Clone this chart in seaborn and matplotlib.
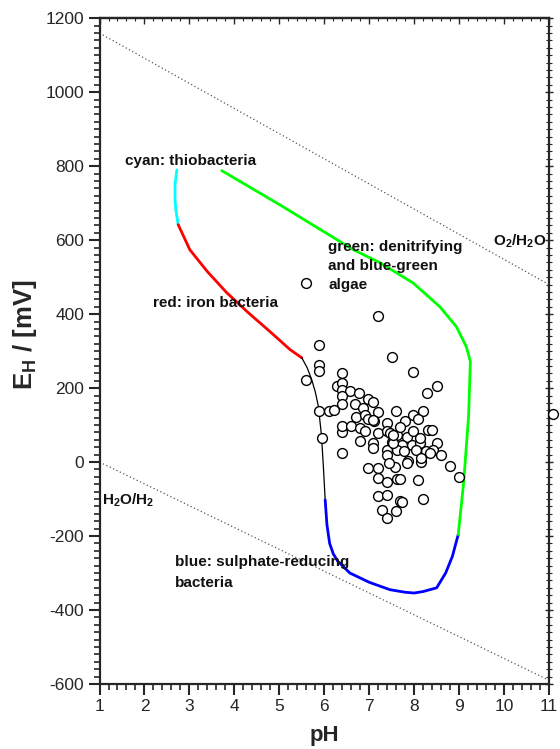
import numpy as np
import pandas as pd
import matplotlib
matplotlib.use("Agg")
import matplotlib.pyplot as plt
import seaborn as sns
from matplotlib.ticker import MultipleLocator

# ---------------- data ----------------
# measured samples (pH, Eh in mV)
sample_ph = [5.59, 7.19, 5.89, 7.50, 5.89, 5.89, 7.98, 5.59, 6.39, 8.50, 8.29, 11.08,
             5.89, 6.11, 6.22, 5.94, 6.39, 6.39, 6.39,
             6.28, 6.39, 6.39, 6.57, 6.78, 6.98, 7.09, 6.39, 6.39, 6.69, 6.87,
             7.19, 7.59, 8.19, 7.98, 6.71, 6.91, 6.98, 7.11, 7.39, 7.80, 8.08,
             6.60, 6.80, 6.91, 7.19, 7.39, 7.61, 7.83, 7.98, 8.31, 8.39,
             6.80, 7.09, 7.50, 7.72, 7.95, 8.13, 8.50, 7.09, 7.39, 7.61, 7.78,
             8.05, 8.27, 8.43, 7.39, 7.87, 8.16, 8.60, 8.16, 6.98, 7.19, 7.57,
             8.80, 9.00, 7.19, 7.39, 7.61, 7.69, 8.09, 7.19, 7.39, 7.69, 7.72,
             8.19, 7.29, 7.60, 7.39, 7.09, 7.46, 7.54, 8.35, 7.43, 7.83, 7.69,
             7.54, 8.13]
sample_eh = [485, 395, 317, 284, 263, 245, 244, 221, 240, 206, 188, 131,
             137, 137, 141, 65, 24, 81, 98,
             206, 213, 196, 193, 186, 171, 162, 179, 158, 158, 146,
             135, 138, 139, 128, 123, 126, 116, 112, 105, 112, 117,
             98, 92, 83, 78, 83, 74, 69, 83, 87, 87,
             58, 51, 54, 45, 47, 51, 51, 39, 33, 33, 29,
             33, 29, 33, 18, 4, 0, 18, 11, -15, -16, -12,
             -10, -39, -43, -54, -46, -45, -48, -91, -88, -104, -108,
             -100, -129, -132, -151, 115, 78, 51, 24, -3, -3, 96,
             74, 65]

# bacteria boundary segments
cyan_ph = [2.72, 2.68, 2.68, 2.70, 2.75]
cyan_eh = [790, 750, 710, 680, 642]
red_ph = [2.75, 3.01, 3.40, 3.83, 4.30, 4.80, 5.24, 5.50]
red_eh = [642, 574, 515, 458, 405, 352, 304, 282]
black_ph = [5.50, 5.62, 5.72, 5.80, 5.87, 5.94, 5.98, 6.02]
black_eh = [282, 255, 223, 190, 150, 69, -12, -102]
blue_ph = [6.02, 6.06, 6.12, 6.20, 6.30, 6.57, 7.00, 7.46, 7.80, 8.00, 8.20, 8.50, 8.70, 8.85, 8.98]
blue_eh = [-102, -170, -220, -248, -268, -300, -325, -345, -352, -354, -350, -340, -300, -255, -196]
green_ph = [8.98, 9.10, 9.21, 9.25, 9.16, 8.94, 8.57, 7.98, 7.24, 6.65, 5.02, 3.72]
green_eh = [-196, -56, 123, 272, 312, 366, 420, 484, 539, 574, 695, 788]

# water stability lines
o2_ph = [1, 11]
o2_eh = [1160, 480]
h2_ph = [1, 11]
h2_eh = [0, -590]

# ---------------- style ----------------
sns.set_style("ticks")
plt.rcParams["font.family"] = ["Liberation Sans", "DejaVu Sans"]
plt.rcParams["axes.unicode_minus"] = False
plt.rcParams["mathtext.fontset"] = "custom"
plt.rcParams["mathtext.rm"] = "Liberation Sans:bold"
plt.rcParams["mathtext.it"] = "Liberation Sans:bold:italic"
plt.rcParams["mathtext.bf"] = "Liberation Sans:bold"

fig = plt.figure(figsize=(5.6, 7.49), dpi=100)
ax = fig.add_axes([0.1777, 0.0868, 0.8027, 0.8888])

# water lines
sns.lineplot(x=o2_ph, y=o2_eh, ax=ax, color="#555555", lw=0.9, linestyle=(0, (1, 2)), sort=False, estimator=None)
sns.lineplot(x=h2_ph, y=h2_eh, ax=ax, color="#555555", lw=0.9, linestyle=(0, (1, 2)), sort=False, estimator=None)

# boundaries
seg = [(cyan_ph, cyan_eh, "#00FFFF", 2.0), (red_ph, red_eh, "#FF0000", 2.0),
       (black_ph, black_eh, "black", 0.9), (blue_ph, blue_eh, "#0000FF", 2.0),
       (green_ph, green_eh, "#00FF00", 2.0)]
for px, py, c, lw in seg:
    sns.lineplot(x=px, y=py, ax=ax, color=c, lw=lw, sort=False, estimator=None)

# samples
sc_df = pd.DataFrame({"pH": sample_ph, "Eh": sample_eh})
sns.scatterplot(data=sc_df, x="pH", y="Eh", ax=ax, s=50, facecolor="white",
                edgecolor="black", linewidth=1.0, clip_on=False, zorder=5)

ax.set_xlim(1, 11)
ax.set_ylim(-600, 1200)
ax.xaxis.set_major_locator(MultipleLocator(1))
ax.xaxis.set_minor_locator(MultipleLocator(0.2))
ax.yaxis.set_major_locator(MultipleLocator(200))
ax.yaxis.set_minor_locator(MultipleLocator(20))
ax.tick_params(which="major", direction="out", length=8, width=1.5, labelsize=12.5, pad=3)
ax.tick_params(which="minor", direction="out", length=4, width=1.2)
ax.tick_params(top=False, right=False, which="both")
# inward ticks on top and right
sec_x = ax.secondary_xaxis("top")
sec_x.xaxis.set_major_locator(MultipleLocator(1))
sec_x.xaxis.set_minor_locator(MultipleLocator(0.2))
sec_x.tick_params(which="major", direction="in", length=4, width=1.0, labeltop=False)
sec_x.tick_params(which="minor", direction="in", length=2.5, width=0.8)
sec_y = ax.secondary_yaxis("right")
sec_y.yaxis.set_major_locator(MultipleLocator(200))
sec_y.yaxis.set_minor_locator(MultipleLocator(20))
sec_y.tick_params(which="major", direction="inout", length=6, width=1.0, labelright=False)
sec_y.tick_params(which="minor", direction="inout", length=4, width=0.8)
for sp in ax.spines.values():
    sp.set_linewidth(1.6)
sec_x.spines["top"].set_linewidth(1.6)
sec_y.spines["right"].set_linewidth(1.2)

ax.set_xlabel("pH", fontsize=16, fontweight="bold", va="top")
ax.xaxis.set_label_coords(0.5, -0.061)
ax.set_ylabel(r"E$_\mathrm{H}$ / [mV]", fontsize=18.5, fontweight="bold")
ax.yaxis.set_label_coords(-0.135, 0.525)

tkw = dict(fontsize=11, fontweight="bold", color="#111111", va="center", ha="left")
ax.text(1.57, 814, "cyan: thiobacteria", **tkw)
ax.text(6.09, 600, "green: denitrifying\nand blue-green\nalgae", fontsize=11, fontweight="bold",
        color="#111111", va="top", ha="left", linespacing=1.45)
ax.text(2.19, 430, "red: iron bacteria", **tkw)
ax.text(1.05, -102, r"H$_\mathrm{2}$O/H$_\mathrm{2}$", **tkw)
ax.text(2.68, -269, "blue: sulphate-reducing", **tkw)
ax.text(2.68, -326, "bacteria", **tkw)
ax.text(9.76, 596, r"O$_\mathrm{2}$/H$_\mathrm{2}$O", **tkw)

fig.savefig("out.png", dpi=100)
